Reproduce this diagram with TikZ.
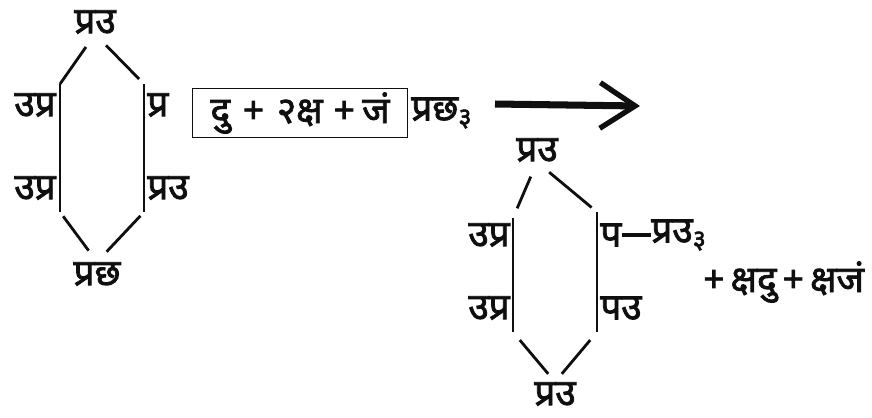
\documentclass[tikz,border=0pt]{standalone}
\usepackage{fontspec}
\newfontfamily\devfont[Script=Devanagari,AutoFakeBold=2.2]{Noto Sans}
\usetikzlibrary{arrows.meta}
\definecolor{inkBlack}{RGB}{15,15,15}

\begin{document}
\begin{tikzpicture}[x=0.02cm,y=-0.02cm,inkBlack,
  lbl/.style={font=\devfont\bfseries\fontsize{21}{23}\selectfont,inner sep=0pt},
  stem/.style={line width=0.6pt},
  diag/.style={line width=1.6pt}]
  \useasboundingbox (0,0) rectangle (872,417);
  % first cell
  \node[lbl] (ltop) at (95,22) {प्रउ};
  \node[lbl,anchor=east] (lupl) at (56,105) {उप्र};
  \node[lbl,anchor=west] (lupr) at (147,105) {प्र};
  \node[lbl,anchor=east] (llol) at (56,188) {उप्र};
  \node[lbl,anchor=west] (llor) at (147,188) {प्रउ};
  \node[lbl] (lbot) at (97,274) {प्रछ};
  \coordinate (ltl) at (60,84);
  \coordinate (ltr) at (144,84);
  \coordinate (lbl) at (60,212);
  \coordinate (lbr) at (144,212);
  \draw[diag,shorten <=9pt] (ltop.south) -- (ltl);
  \draw[diag,shorten <=9pt,shorten >=4pt] (ltop.south) -- (ltr);
  \draw[stem] (ltl) -- (lbl);
  \draw[stem] (ltr) -- (lbr);
  \draw[diag,shorten <=3pt,shorten >=8pt] (lbl) -- (lbot.north);
  \draw[diag,shorten <=3pt,shorten >=8pt] (lbr) -- (lbot.north);
  % reaction
  \node[lbl,draw,stem,minimum width=4.3cm,minimum height=0.98cm] (feed) at (300,113)
    {दु\hspace{0.35em}+\hspace{0.35em}२क्ष\hspace{0.3em}+\hspace{0.2em}जं};
  \node[lbl,anchor=west] (lout) at (411,113) {प्रछ\textsubscript{३}};
  \coordinate (arS) at (495,104);
  \coordinate (arE) at (640,106);
  \draw[line width=4pt,-{Straight Barb[length=20pt,width=26pt,line width=3pt]}] (arS) -- (arE);
  % second cell
  \node[lbl] (rtop) at (537,150) {प्रउ};
  \node[lbl,anchor=east] (rupl) at (510,235) {उप्र};
  \node[lbl,anchor=west] (rupr) at (600,235) {प};
  \node[lbl,anchor=west] (rout) at (651,235) {प्रउ\textsubscript{३}};
  \node[lbl,anchor=west] (rrest) at (703,282) {+\,क्षदु\,+\,क्षजं};
  \node[lbl,anchor=east] (rlol) at (510,308) {उप्र};
  \node[lbl,anchor=west] (rlor) at (600,308) {पउ};
  \node[lbl] (rbot) at (555,394) {प्रउ};
  \coordinate (rtl) at (513,218);
  \coordinate (rtr) at (597,212);
  \coordinate (rbl) at (513,332);
  \coordinate (rbr) at (597,332);
  \draw[diag,shorten <=9pt,shorten >=6pt] (rtop.south) -- (rtl);
  \draw[diag,shorten <=9pt,shorten >=4pt] (rtop.south) -- (rtr);
  \draw[stem] (rtl) -- (rbl);
  \draw[stem] (rtr) -- (rbr);
  \draw[line width=1.8pt] (rupr) -- (rout);
  \draw[diag,shorten <=6pt,shorten >=6pt] (rbl) -- (rbot.north);
  \draw[diag,shorten <=6pt,shorten >=6pt] (rbr) -- (rbot.north);
\end{tikzpicture}
\end{document}
